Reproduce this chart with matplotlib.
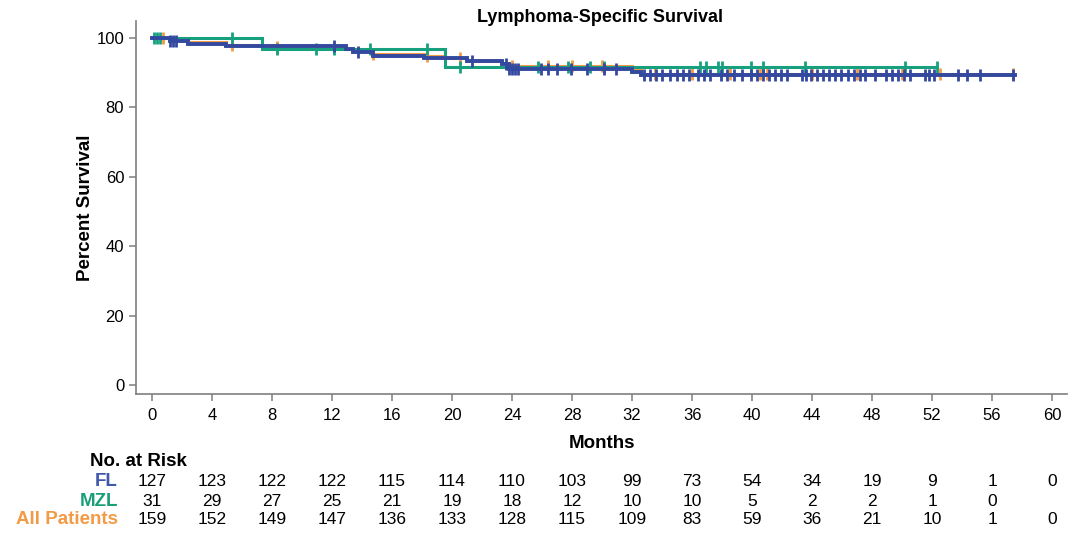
import matplotlib
matplotlib.use('Agg')
import matplotlib.pyplot as plt
import numpy as np

plt.rcParams['font.family'] = ['Liberation Sans', 'DejaVu Sans']

# ---------------------------------------------------------------------------
# Data (Kaplan-Meier steps, censor times, at-risk table)
# ---------------------------------------------------------------------------
fl_times = [0, 1.2, 2.4, 4.9, 12.9, 13.4, 14.7, 18.1, 21.0, 23.3, 23.8, 32.0, 32.6]
fl_surv = [100, 99.2, 98.4, 97.6, 96.8, 96.0, 94.9, 94.1, 93.3, 92.4, 91.2, 90.3, 89.3]
fl_end = 57.5
fl_cens = [1.2, 1.4, 1.6, 12.1, 13.7, 21.3, 23.6, 23.8, 24.0, 24.2, 24.4, 25.9, 26.4,
           27.0, 27.9, 29.0, 30.1, 30.9, 32.8, 33.2, 33.6, 34.0, 34.5, 35.0, 35.4,
           35.8, 36.4, 36.8, 37.2, 37.9, 38.3, 38.8, 39.3, 39.9, 40.3, 40.7, 41.1,
           41.5, 41.9, 42.3, 43.3, 43.6, 43.9, 44.3, 44.7, 45.1, 45.5, 45.9, 46.4,
           46.8, 47.2, 47.5, 48.2, 48.9, 49.3, 49.7, 50.1, 50.5, 51.5, 51.8, 52.1,
           53.7, 54.3, 55.2, 57.4]

mzl_times = [0, 7.3, 19.5]
mzl_surv = [100, 96.8, 91.7]
mzl_end = 52.3
mzl_cens = [0.1, 0.3, 0.5, 5.3, 8.3, 10.9, 12.1, 14.5, 18.3, 20.5, 25.7, 27.7, 29.2,
            30.1, 36.5, 36.9, 37.7, 38.0, 39.9, 40.7, 43.5, 50.2, 52.3]

all_times = [0, 1.2, 2.4, 4.9, 7.3, 12.9, 13.4, 14.7, 18.1, 19.5, 21.0, 23.3, 23.8, 32.0, 32.6]
all_surv = [100, 99.4, 98.7, 98.1, 97.5, 96.8, 96.2, 95.5, 94.8, 94.1, 93.4, 92.7, 91.9, 91.1, 89.6]
all_end = 57.5
all_cens = [0.7, 5.3, 8.3, 14.7, 18.3, 20.5, 24.0, 26.4, 28.0, 30.0, 33.5, 36.0, 38.5,
            40.5, 41.0, 44.0, 47.0, 50.0, 52.5, 57.4]

risk_months = [0, 4, 8, 12, 16, 20, 24, 28, 32, 36, 40, 44, 48, 52, 56, 60]
risk_fl = [127, 123, 122, 122, 115, 114, 110, 103, 99, 73, 54, 34, 19, 9, 1, 0]
risk_mzl = [31, 29, 27, 25, 21, 19, 18, 12, 10, 10, 5, 2, 2, 1, 0, None]
risk_all = [159, 152, 149, 147, 136, 133, 128, 115, 109, 83, 59, 36, 21, 10, 1, 0]

c_fl = '#3349a0'
c_mzl = '#17a07e'
c_all = '#f39a45'
c_fl_txt = '#3f58a8'
c_mzl_txt = '#1a9e78'
c_all_txt = '#f29a46'
grey = '#7f7f7f'

fig = plt.figure(figsize=(10.76, 5.38), dpi=100)
ax = fig.add_axes([0.1264, 0.2677, 0.8653, 0.6933])


def draw_curve(times, surv, end, cens, color, lw, ms):
    t = list(times) + [end]
    s = list(surv) + [surv[-1]]
    ax.step(t, s, where='post', color=color, lw=lw, solid_joinstyle='miter')
    idx = np.searchsorted(times, cens, side='right') - 1
    cy = np.array(surv)[idx]
    ax.plot(cens, cy, linestyle='none', marker='|', color=color,
            markersize=ms, markeredgewidth=2.0)


draw_curve(all_times, all_surv, all_end, all_cens, c_all, 2.2, 9)
draw_curve(mzl_times, mzl_surv, mzl_end, mzl_cens, c_mzl, 2.2, 9)
draw_curve(fl_times, fl_surv, fl_end, fl_cens, c_fl, 2.8, 9)

ax.set_xlim(-1.07, 61)
ax.set_ylim(-2.6, 104.9)
ax.set_xticks(np.arange(0, 61, 4))
ax.set_yticks(np.arange(0, 101, 20))
for side in ['top', 'right']:
    ax.spines[side].set_visible(False)
for side in ['left', 'bottom']:
    ax.spines[side].set_color(grey)
    ax.spines[side].set_linewidth(1.2)
ax.tick_params(axis='both', colors=grey, labelcolor='black', labelsize=12,
               length=5, width=1.1)
ax.tick_params(axis='x', pad=5)

fig.text(0.558, 1 - 18 / 538, 'Lymphoma-Specific Survival', fontsize=13,
         fontweight='bold', ha='center', va='center')
ax.set_ylabel('Percent Survival', fontsize=13.5, fontweight='bold', labelpad=2)
ax.set_xlabel('Months', fontsize=13.5, fontweight='bold', labelpad=9)

# Number at risk table below the axis
trans = matplotlib.transforms.blended_transform_factory(ax.transData, fig.transFigure)
fig.text(90 / 1076, 1 - 461 / 538, 'No. at Risk', fontsize=13.5, fontweight='bold',
         ha='left', va='center')
rows = [('FL', risk_fl, c_fl_txt, 482), ('MZL', risk_mzl, c_mzl_txt, 501),
        ('All Patients', risk_all, c_all_txt, 520)]
for name, vals, col, ypx in rows:
    yf = 1 - ypx / 538
    fig.text(118 / 1076, yf, name, fontsize=13.5, fontweight='bold', color=col,
             ha='right', va='center')
    for m, v in zip(risk_months, vals):
        if v is None:
            continue
        ax.text(m, yf, str(v), transform=trans, fontsize=12.5, ha='center', va='center')

fig.savefig('out.png', dpi=100, facecolor='white')
